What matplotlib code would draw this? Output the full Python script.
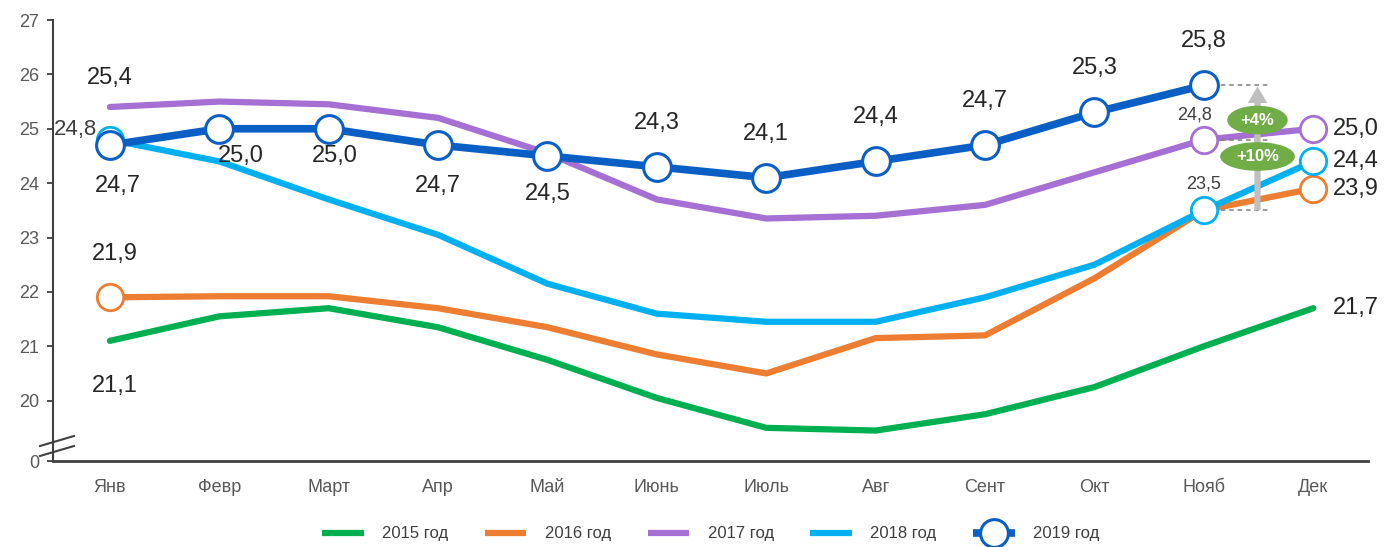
import numpy as np
import matplotlib.pyplot as plt
from matplotlib.patches import Ellipse
from matplotlib.lines import Line2D

plt.rcParams['font.family'] = ['Liberation Sans', 'DejaVu Sans']

months = ['Янв', 'Февр', 'Март', 'Апр', 'Май', 'Июнь', 'Июль', 'Авг', 'Сент', 'Окт', 'Нояб', 'Дек']

y2015 = [21.1, 21.55, 21.7, 21.35, 20.75, 20.05, 19.5, 19.45, 19.75, 20.25, 21.0, 21.7]
y2016 = [21.9, 21.92, 21.92, 21.7, 21.35, 20.85, 20.5, 21.15, 21.2, 22.25, 23.5, 23.9]
y2017 = [25.4, 25.5, 25.45, 25.2, 24.55, 23.7, 23.35, 23.4, 23.6, 24.2, 24.8, 25.0]
y2018 = [24.8, 24.4, 23.7, 23.05, 22.15, 21.6, 21.45, 21.45, 21.9, 22.5, 23.5, 24.4]
y2019 = [24.7, 25.0, 25.0, 24.7, 24.5, 24.3, 24.1, 24.4, 24.7, 25.3, 25.8]

yticks = [19 - 0.11, 20, 21, 22, 23, 24, 25, 26, 27]
ytick_labels = ['0', '20', '21', '22', '23', '24', '25', '26', '27']

c15 = '#00B050'
c16 = '#ED7D31'
c17 = '#A66FD3'
c18 = '#00B0F0'
c19 = '#0A5FC4'

def fmt(v):
    return f'{v:.1f}'.replace('.', ',')

fig = plt.figure(figsize=(13.99, 5.47), dpi=100)
ax = fig.add_axes([53 / 1399, 1 - 461 / 547, (1368 - 53) / 1399, (461 - 20) / 547])

x = np.arange(12)
ax.plot(x, y2015, color=c15, lw=4.5, solid_capstyle='round')
ax.plot(x, y2016, color=c16, lw=4.5, solid_capstyle='round')
ax.plot(x, y2017, color=c17, lw=4.5, solid_capstyle='round')
ax.plot(x, y2018, color=c18, lw=4.5, solid_capstyle='round')
ax.plot(x[:11], y2019, color=c19, lw=5.5, marker='o', ms=20, mfc='white', mec=c19, mew=2.2,
        zorder=5)

# open markers on selected points
def open_pts(idx, vals, col):
    ax.plot([x[i] for i in idx], [vals[i] for i in idx], ls='none', marker='o', ms=19,
            mfc='white', mec=col, mew=2.0, zorder=4)

open_pts([0, 11], y2016, c16)
open_pts([10, 11], y2017, c17)
open_pts([0, 10, 11], y2018, c18)

ax.set_xlim(-0.52, 11.5)
ax.set_ylim(19 - 0.11, 27)

ax.set_xticks(x)
ax.set_xticklabels(months)
ax.set_yticks(yticks)
ax.set_yticklabels(ytick_labels)
ax.tick_params(axis='x', length=0, pad=13, labelsize=13, labelcolor='#595959')
ax.tick_params(axis='y', length=4, width=1.3, color='#404040', pad=6, labelsize=13, labelcolor='#595959')
for s in ['top', 'right']:
    ax.spines[s].set_visible(False)
ax.spines['left'].set_color('#404040')
ax.spines['left'].set_linewidth(1.5)
ax.spines['bottom'].set_color('#404040')
ax.spines['bottom'].set_linewidth(2)

# data labels (dx, dy in pixels)
big = dict(fontsize=17, color='#262626', ha='center', va='center')

def lab(xi, v, dx, dy, text=None, **kw):
    st = dict(big)
    st.update(kw)
    ax.annotate(text if text else fmt(v), (xi, v), xytext=(dx * 0.72, dy * 0.72),
                textcoords='offset points', zorder=6, **st)

lab(0, y2017[0], 0, 29)
lab(0, y2018[0], -34, 10, color='#404040', fontsize=16)
lab(0, y2019[0], 8, -41)
lab(0, y2016[0], 5, 43)
lab(0, y2015[0], 5, -45)
lab(1, y2019[1], 22, -27)
lab(2, y2019[2], 6, -27)
lab(3, y2019[3], 0, -41)
lab(4, y2019[4], 0, -38)
for i in range(5, 11):
    lab(i, y2019[i], 0, 44)
lab(11, y2017[11], 43, 0)
lab(11, y2018[11], 43, 0)
lab(11, y2016[11], 43, 0)
lab(11, y2015[11], 43, 0)
lab(10, y2017[10], -9, 25, color='#404040', fontsize=13)
lab(10, y2018[10], 0, 26, color='#404040', fontsize=13)

# comparison annotation at November
for v in [y2019[10], y2017[10], y2018[10]]:
    ax.plot([10.0, 10.6], [v, v], ls=(0, (3, 2.5)), color='#7F7F7F', lw=1.1, zorder=3)
ax.annotate('', xy=(10.49, y2019[10] - 0.02), xytext=(10.49, y2018[10]),
            arrowprops=dict(arrowstyle='simple,head_width=1.4,head_length=1.2,tail_width=0.45',
                            color='#BFBFBF', lw=0, shrinkA=0, shrinkB=0), zorder=3)
for cy, w, txt in [(25.16, 0.54, '+4%'), (24.49, 0.67, '+10%')]:
    ax.add_patch(Ellipse((10.49, cy), w, 0.5, color='#70AD47', zorder=7))
    ax.text(10.49, cy, txt, color='white', fontsize=12, fontweight='bold', ha='center',
            va='center', zorder=8)

# axis break marks
for yb in [446, 456]:
    fig.add_artist(Line2D([40 / 1399, 74 / 1399], [1 - yb / 547, 1 - (yb - 10) / 547],
                          color='#404040', lw=1.5))

# legend
handles = [Line2D([], [], color=c, lw=4.5, solid_capstyle='butt') for c in [c15, c16, c17, c18]]
handles.append(Line2D([], [], color=c19, lw=5.5, solid_capstyle='butt', marker='o', ms=20,
                      mfc='white', mec=c19, mew=2.2))
labels = ['2015 год', '2016 год', '2017 год', '2018 год', '2019 год']
fig.legend(handles, labels, loc='center', bbox_to_anchor=(0.508, 0.024), ncol=5, frameon=False,
           fontsize=12, handlelength=2.5, handletextpad=1.1, columnspacing=2.2,
           labelcolor='#404040')

fig.savefig('out.png', dpi=100)
